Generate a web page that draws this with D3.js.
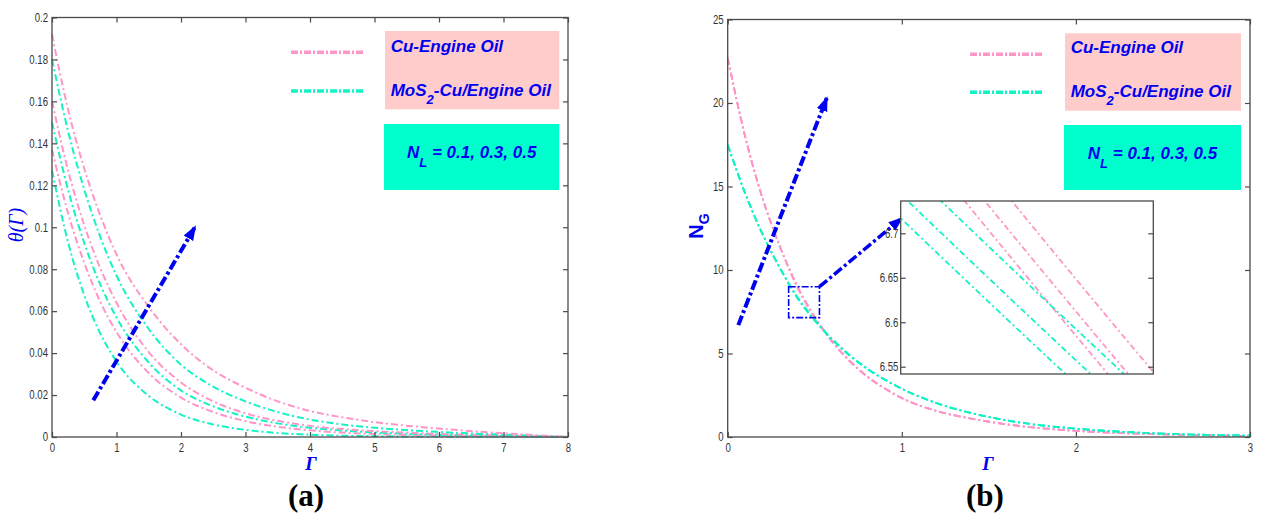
<!DOCTYPE html>
<html><head><meta charset="utf-8">
<script src="https://cdn.jsdelivr.net/npm/d3@7"></script>
<style>body{margin:0;background:#fff}</style>
</head><body>
<svg id="c" width="1265" height="523"></svg>
<script>
// ---------- Panel (a) data ----------
const gammaA = [0,0.25,0.5,0.75,1,1.5,2,2.5,3,3.5,4,4.5,5,6,7,8];
const thetaCu05   = [0.192,0.156,0.128,0.1055,0.087,0.062,0.0442,0.0318,0.0235,0.0170,0.0124,0.0094,0.0071,0.0040,0.0018,0];
const thetaMoS05  = [0.180,0.1457,0.118,0.0953,0.077,0.0515,0.0345,0.0240,0.0170,0.0119,0.0083,0.0060,0.0044,0.0024,0.0011,0];
const thetaCu03   = [0.160,0.127,0.101,0.0804,0.064,0.0405,0.0260,0.0170,0.0113,0.0077,0.0053,0.0038,0.0028,0.0015,0.0007,0];
const thetaMoS03  = [0.150,0.1178,0.0925,0.0726,0.057,0.0355,0.0222,0.0146,0.0097,0.0065,0.0044,0.0031,0.0022,0.0011,0.0005,0];
const thetaCu01   = [0.137,0.1066,0.083,0.0644,0.050,0.0305,0.0188,0.0119,0.0076,0.0049,0.0032,0.0021,0.0014,0.0007,0.0003,0];
const thetaMoS01  = [0.127,0.0927,0.0676,0.0493,0.036,0.0196,0.0107,0.0060,0.0034,0.0019,0.0011,0.0006,0.0004,0.0002,0.0001,0];
const xTicksA = [0,1,2,3,4,5,6,7,8];
const yTicksA = [0,0.02,0.04,0.06,0.08,0.1,0.12,0.14,0.16,0.18,0.2];
const yTickLabelsA = ["0","0.02","0.04","0.06","0.08","0.1","0.12","0.14","0.16","0.18","0.2"];
const arrowA = [[0.64,0.0175],[2.217,0.1001]];

// ---------- Panel (b) data ----------
const gammaB = [0,0.1,0.2,0.3,0.4,0.5,0.52,0.54,0.55,0.6,0.7,0.8,0.9,1.0,1.2,1.4,1.6,1.8,2.0,2.25,2.5,2.75,3.0];
const ngCu01  = [22.7,18.0,14.3,11.4,8.962,7.142,6.825,6.522,6.376,5.692,4.536,3.615,2.92,2.33,1.56,1.10,0.76,0.53,0.37,0.24,0.16,0.10,0.06];
const ngCu03  = [22.7,18.0,14.3,11.4,8.999,7.171,6.853,6.549,6.402,5.718,4.557,3.631,2.92,2.33,1.56,1.10,0.76,0.53,0.37,0.24,0.16,0.10,0.06];
const ngCu05  = [22.7,18.0,14.3,11.4,9.048,7.211,6.891,6.585,6.437,5.747,4.579,3.650,2.92,2.33,1.56,1.10,0.76,0.53,0.37,0.24,0.16,0.10,0.06];
const ngMoS01 = [17.5,14.6,12.15,10.12,8.317,6.961,6.717,6.482,6.368,5.825,4.876,4.081,3.45,2.89,2.03,1.43,1.0,0.70,0.50,0.32,0.20,0.13,0.08];
const ngMoS03 = [17.5,14.6,12.15,10.12,8.350,6.989,6.744,6.508,6.393,5.849,4.896,4.097,3.45,2.89,2.03,1.43,1.0,0.70,0.50,0.32,0.20,0.13,0.08];
const ngMoS05 = [17.5,14.6,12.15,10.12,8.395,7.026,6.780,6.543,6.428,5.881,4.921,4.119,3.45,2.89,2.03,1.43,1.0,0.70,0.50,0.32,0.20,0.13,0.08];
const xTicksB = [0,1,2,3];
const yTicksB = [0,5,10,15,20,25];
const insetX = [0.52,0.54274];
const insetY = [6.5418,6.7363];
const insetTicks = [6.55,6.6,6.65,6.7];
const insetTickLabels = ["6.55","6.6","6.65","6.7"];
const arrowB = [[0.061,6.7],[0.569,20.3]];
const zoomBox = [[0.35,7.15],[0.527,9.0]];
const arrowZoom = [[0.527,9.0],[1.0,13.1]];

const legendLabels = ["Cu-Engine Oil","MoS2-Cu/Engine Oil"];
const paramLabel = "N_L = 0.1, 0.3, 0.5";

// ---------- styles ----------
const PINK = "#ff96c8", CYAN = "#14f2c6", BLUE = "#0000f0";
const AXC = "#4a4a4a";
const TICKFONT = "'Liberation Sans',Arial,sans-serif";

const svg = d3.select("#c");
svg.append("rect").attr("width",1265).attr("height",523).attr("fill","#fff");
const defs = svg.append("defs");
defs.append("marker").attr("id","ah").attr("viewBox","0 -6 16 12")
  .attr("markerUnits","userSpaceOnUse").attr("markerWidth",16).attr("markerHeight",12)
  .attr("refX",13).attr("refY",0).attr("orient","auto")
  .append("path").attr("d","M0,-5.5L15,0L0,5.5Z").attr("fill",BLUE);

function styleAxis(a){
  a.select(".domain").remove();
  a.selectAll("line").attr("stroke",AXC).attr("stroke-width",1.2);
  a.selectAll("text").attr("fill","#333").attr("transform","scale(0.8,1)")
    .style("font-family",TICKFONT).style("font-size","12px");
}

function frame(g, x, y, xt, yt, xlab, ylab){
  const [x0,x1]=x.range(), [y0,y1]=y.range();
  const gb = g.append("g").attr("transform",`translate(0,${y0})`)
    .call(d3.axisBottom(x).tickValues(xt).tickSize(-5).tickPadding(6).tickFormat((d,i)=>xlab[i]));
  const gt = g.append("g").attr("transform",`translate(0,${y1})`)
    .call(d3.axisTop(x).tickValues(xt).tickSize(-5).tickFormat(""));
  const gl = g.append("g").attr("transform",`translate(${x0},0)`)
    .call(d3.axisLeft(y).tickValues(yt).tickSize(-5).tickPadding(5).tickFormat((d,i)=>ylab[i]));
  const gr = g.append("g").attr("transform",`translate(${x1},0)`)
    .call(d3.axisRight(y).tickValues(yt).tickSize(-5).tickFormat(""));
  [gb,gt,gl,gr].forEach(styleAxis);
  g.append("rect").attr("x",x0).attr("y",y1).attr("width",x1-x0).attr("height",y0-y1)
    .attr("fill","none").attr("stroke",AXC).attr("stroke-width",1.3);
}

function legend(g, lx0, lx1, ly1, ly2, bx, bw, pinkBox, cyanBox, tx, ty1, ty2, ncx, nty){
  g.append("rect").attr("x",bx).attr("y",pinkBox[0]).attr("width",bw).attr("height",pinkBox[1]-pinkBox[0]).attr("fill","#ffcccc");
  g.append("rect").attr("x",bx-1).attr("y",cyanBox[0]).attr("width",bw+1).attr("height",cyanBox[1]-cyanBox[0]).attr("fill","#00ffcc");
  g.append("line").attr("x1",lx0).attr("x2",lx1).attr("y1",ly1).attr("y2",ly1).attr("stroke",PINK).attr("stroke-width",3.5).attr("stroke-dasharray","7,2,2,2");
  g.append("line").attr("x1",lx0).attr("x2",lx1).attr("y1",ly2).attr("y2",ly2).attr("stroke",CYAN).attr("stroke-width",3.5).attr("stroke-dasharray","7,2,2,2");
  const st = t=>t.attr("fill",BLUE).style("font-family","'Liberation Sans',Arial,sans-serif").style("font-weight","bold").style("font-style","italic").style("font-size","17px");
  st(g.append("text").attr("x",tx).attr("y",ty1).text(legendLabels[0]));
  const t2 = st(g.append("text").attr("x",tx).attr("y",ty2));
  const parts = legendLabels[1].split("2");
  t2.append("tspan").text(parts[0]);
  t2.append("tspan").attr("dy",8).style("font-size","13px").text("2");
  t2.append("tspan").attr("dy",-8).text(parts[1]);
  const t3 = st(g.append("text").attr("x",ncx).attr("y",nty).attr("text-anchor","middle"));
  const p = paramLabel.split("_");
  t3.append("tspan").text(p[0]);
  t3.append("tspan").attr("dy",9).style("font-size","13px").text(p[1][0]);
  t3.append("tspan").attr("dy",-9).text(p[1].slice(1));
}

// ================= Panel (a) =================
const xA = d3.scaleLinear([0,8],[52,568]);
const yA = d3.scaleLinear([0,0.2],[437,17.5]);
const gA = svg.append("g");
const seriesA = [
  {v:thetaMoS01,c:CYAN},{v:thetaCu01,c:PINK},
  {v:thetaMoS03,c:CYAN},{v:thetaCu03,c:PINK},
  {v:thetaMoS05,c:CYAN},{v:thetaCu05,c:PINK}];
const lineA = d3.line().x((d,i)=>xA(gammaA[i])).y(d=>yA(d)).curve(d3.curveMonotoneX);
gA.selectAll("path.ca").data(seriesA).join("path").attr("class","ca")
  .attr("d",d=>lineA(d.v)).attr("fill","none").attr("stroke",d=>d.c)
  .attr("stroke-width",2).attr("stroke-dasharray","7,3,2,3");
frame(gA,xA,yA,xTicksA,yTicksA,xTicksA.map(String),yTickLabelsA);
gA.append("line").attr("x1",xA(arrowA[0][0])).attr("y1",yA(arrowA[0][1]))
  .attr("x2",xA(arrowA[1][0])).attr("y2",yA(arrowA[1][1]))
  .attr("stroke",BLUE).attr("stroke-width",4).attr("stroke-dasharray","10,3,3,3").attr("marker-end","url(#ah)");
legend(gA,291,365,52.3,91,385,174.3,[31,109.3],[124,190],390.7,52.3,95.7,471.7,158.3);
gA.append("text").attr("transform","translate(23,225) rotate(-90)").attr("text-anchor","middle")
  .attr("fill",BLUE).style("font-family","'Liberation Serif','Times New Roman',serif").style("font-style","italic").style("font-size","20px").text("θ(Γ)");
gA.append("text").attr("x",311).attr("y",470).attr("text-anchor","middle")
  .attr("fill",BLUE).style("font-family","'Liberation Serif','Times New Roman',serif").style("font-style","italic").style("font-weight","bold").style("font-size","19px").text("Γ");
gA.append("text").attr("x",306).attr("y",506).attr("text-anchor","middle")
  .attr("fill","#000").style("font-family","'Liberation Serif','Times New Roman',serif").style("font-weight","bold").style("font-size","31px").text("(a)");

// ================= Panel (b) =================
const xB = d3.scaleLinear([0,3],[727.7,1250]);
const yB = d3.scaleLinear([0,25],[437,19.5]);
const gB = svg.append("g");
const seriesB = [
  {v:ngCu01,c:PINK},{v:ngCu03,c:PINK},{v:ngCu05,c:PINK},
  {v:ngMoS01,c:CYAN},{v:ngMoS03,c:CYAN},{v:ngMoS05,c:CYAN}];
const lineB = d3.line().x((d,i)=>xB(gammaB[i])).y(d=>yB(d)).curve(d3.curveMonotoneX);
gB.selectAll("path.cb").data(seriesB).join("path").attr("class","cb")
  .attr("d",d=>lineB(d.v)).attr("fill","none").attr("stroke",d=>d.c)
  .attr("stroke-width",1.8).attr("stroke-dasharray","7,3,2,3");
frame(gB,xB,yB,xTicksB,yTicksB,xTicksB.map(String),yTicksB.map(String));
gB.append("line").attr("x1",xB(arrowB[0][0])).attr("y1",yB(arrowB[0][1]))
  .attr("x2",xB(arrowB[1][0])).attr("y2",yB(arrowB[1][1]))
  .attr("stroke",BLUE).attr("stroke-width",4).attr("stroke-dasharray","10,3,3,3").attr("marker-end","url(#ah)");
gB.append("rect").attr("x",xB(zoomBox[0][0])).attr("y",yB(zoomBox[1][1]))
  .attr("width",xB(zoomBox[1][0])-xB(zoomBox[0][0])).attr("height",yB(zoomBox[0][1])-yB(zoomBox[1][1]))
  .attr("fill","none").attr("stroke",BLUE).attr("stroke-width",1.6).attr("stroke-dasharray","7,2,2,2");
gB.append("line").attr("x1",xB(arrowZoom[0][0])).attr("y1",yB(arrowZoom[0][1]))
  .attr("x2",xB(arrowZoom[1][0])).attr("y2",yB(arrowZoom[1][1]))
  .attr("stroke",BLUE).attr("stroke-width",3.5).attr("stroke-dasharray","10,3,3,3").attr("marker-end","url(#ah)");

// inset
const xI = d3.scaleLinear(insetX,[900.7,1153.3]);
const yI = d3.scaleLinear(insetY,[374,201]);
const gI = svg.append("g");
gI.append("rect").attr("x",900.7).attr("y",201).attr("width",252.6).attr("height",173).attr("fill","#fff");
defs.append("clipPath").attr("id","ic").append("rect").attr("x",900.7).attr("y",201).attr("width",252.6).attr("height",173);
const lineI = d3.line().x((d,i)=>xI(gammaB[i])).y(d=>yI(d)).curve(d3.curveMonotoneX);
gI.append("g").attr("clip-path","url(#ic)").selectAll("path").data(seriesB).join("path")
  .attr("d",d=>lineI(d.v)).attr("fill","none").attr("stroke",d=>d.c)
  .attr("stroke-width",1.8).attr("stroke-dasharray","6,3,2,3");
const il = gI.append("g").attr("transform","translate(900.7,0)")
  .call(d3.axisLeft(yI).tickValues(insetTicks).tickSize(-5).tickPadding(3).tickFormat((d,i)=>insetTickLabels[i]));
const ir = gI.append("g").attr("transform","translate(1153.3,0)")
  .call(d3.axisRight(yI).tickValues(insetTicks).tickSize(-5).tickFormat(""));
[il,ir].forEach(styleAxis);
gI.append("rect").attr("x",900.7).attr("y",201).attr("width",252.6).attr("height",173)
  .attr("fill","none").attr("stroke",AXC).attr("stroke-width",1.3);

legend(gB,970,1044,54.3,92.3,1065,176,[33.3,110.7],[125,190],1070.7,53.3,96.7,1152.5,159);
const ng = gB.append("text").attr("transform","translate(703,226) rotate(-90)").attr("text-anchor","middle")
  .attr("fill",BLUE).style("font-family","'Liberation Sans',Arial,sans-serif").style("font-weight","bold").style("font-size","20px");
ng.append("tspan").text("N");
ng.append("tspan").attr("dy",6).style("font-size","14px").text("G");
gB.append("text").attr("x",988).attr("y",470).attr("text-anchor","middle")
  .attr("fill",BLUE).style("font-family","'Liberation Serif','Times New Roman',serif").style("font-style","italic").style("font-weight","bold").style("font-size","19px").text("Γ");
gB.append("text").attr("x",985).attr("y",506).attr("text-anchor","middle")
  .attr("fill","#000").style("font-family","'Liberation Serif','Times New Roman',serif").style("font-weight","bold").style("font-size","31px").text("(b)");
</script>
</body></html>
